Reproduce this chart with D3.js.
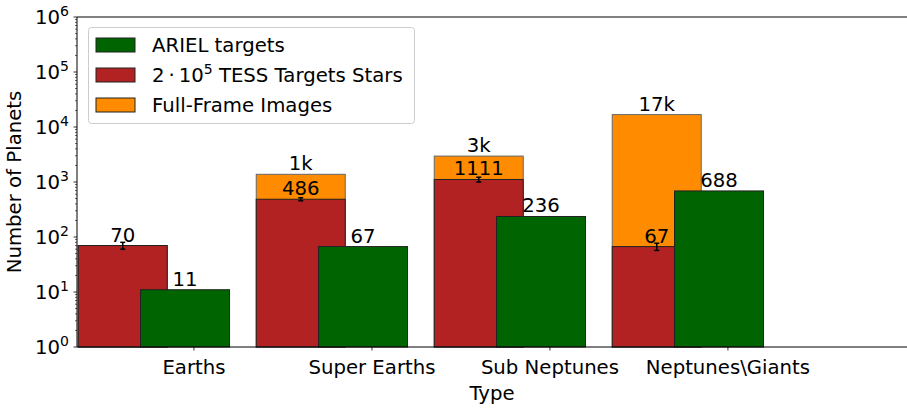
<!DOCTYPE html>
<meta charset="utf-8">
<title>Planet yield by type</title>
<script src="https://d3js.org/d3.v7.min.js"></script>
<style>
body {
	margin: 0;
	font-family: DejaVu Sans, sans-serif;
}
</style>
<body>
<script>
const categories = ['Earths', 'Super Earths', 'Sub Neptunes', 'Neptunes\\Giants'];
const arielTargets = [11, 67, 236, 688];
const tessTargets = [70, 486, 1111, 67];
const tessErrors = [10, 30, 110, 10];
const ffiTargets = [70, 1380, 2960, 16800];
const yExponents = [0, 1, 2, 3, 4, 5, 6];
const seriesNames = ['ARIEL targets', '2\u00b710^5 TESS Targets Stars', 'Full-Frame Images'];

const colors = {
	ariel: '#006400',
	tess: '#b22222',
	ffi: '#ff8c00',
};
const fontSize = 19.7;
const supSize = 14;
const width = 907;
const height = 409;
const margin = {top: 17, left: 77, bottom: 62};
const barWidth = 0.5;

const svg = d3.select('body')
	.append('svg')
		.attr('width', width)
		.attr('height', height)
		.attr('font-family', 'DejaVu Sans, sans-serif')
		.attr('font-size', fontSize);

// x in category units, y logarithmic
const x = d3.scaleLinear()
	.domain([-0.657, 4.006])
	.range([margin.left, width]);
const y = d3.scaleLog()
	.domain([1, 1e6])
	.range([height - margin.bottom, margin.top]);

const idx = d3.range(categories.length);
const bottom = y(1);

function addBars(values, offset, color, stroke) {
	svg.append('g')
		.selectAll('rect')
		.data(idx)
		.join('rect')
			.attr('x', i => x(i + offset - barWidth / 2))
			.attr('width', x(barWidth) - x(0))
			.attr('y', i => y(values[i]))
			.attr('height', i => bottom - y(values[i]))
			.attr('fill', color)
			.attr('stroke', stroke)
			.attr('stroke-width', 1);
}

function addLabels(values, offset, format) {
	svg.append('g')
		.attr('text-anchor', 'middle')
		.selectAll('text')
		.data(idx)
		.join('text')
			.attr('x', i => x(i + offset))
			.attr('y', i => y(values[i]) - 4)
			.text(i => format(values[i]));
}

// FFI bars sit behind the TESS bars; the Earths one is hidden under red
addBars(ffiTargets, -0.4, colors.ffi, '#666');
addBars(tessTargets, -0.4, colors.tess, '#222');
addBars(arielTargets, -0.05, colors.ariel, '#222');

// error bars on the TESS bars
const err = svg.append('g').attr('stroke', '#000').attr('stroke-width', 1.5);
idx.forEach(i => {
	const cx = x(i - 0.4);
	const lo = y(tessTargets[i] - tessErrors[i]);
	const hi = y(tessTargets[i] + tessErrors[i]);
	err.append('line').attr('x1', cx).attr('x2', cx).attr('y1', lo).attr('y2', hi);
	err.append('line').attr('x1', cx - 2.5).attr('x2', cx + 2.5).attr('y1', lo).attr('y2', lo);
	err.append('line').attr('x1', cx - 2.5).attr('x2', cx + 2.5).attr('y1', hi).attr('y2', hi);
});

// labels above the bars
addLabels(ffiTargets.map((v, i) => i === 0 ? 0 : v), -0.4,
	v => v ? Math.round(v / 1000) + 'k' : '');
addLabels(tessTargets, -0.4, d3.format('d'));
addLabels(arielTargets, -0.05, d3.format('d'));

// spines
const spines = svg.append('g').attr('stroke', '#000').attr('stroke-width', 1);
spines.append('line').attr('x1', margin.left).attr('x2', margin.left).attr('y1', margin.top).attr('y2', bottom);
spines.append('line').attr('x1', margin.left).attr('x2', width).attr('y1', bottom).attr('y2', bottom);
spines.append('line').attr('x1', margin.left).attr('x2', width).attr('y1', margin.top).attr('y2', margin.top);

// y axis: major and minor ticks
const yAxis = svg.append('g');
const minor = [];
yExponents.slice(0, -1).forEach(e => {
	for (let k = 2; k <= 9; k++) minor.push(k * Math.pow(10, e));
});
yAxis.selectAll('.minor')
	.data(minor)
	.join('line')
		.attr('x1', margin.left - 2)
		.attr('x2', margin.left)
		.attr('y1', d => y(d))
		.attr('y2', d => y(d))
		.attr('stroke', '#000')
		.attr('stroke-width', 0.6);
yAxis.selectAll('.major')
	.data(yExponents)
	.join('line')
		.attr('x1', margin.left - 3.5)
		.attr('x2', margin.left)
		.attr('y1', e => y(Math.pow(10, e)))
		.attr('y2', e => y(Math.pow(10, e)))
		.attr('stroke', '#000')
		.attr('stroke-width', 0.8);
const yLabels = yAxis.selectAll('text')
	.data(yExponents)
	.join('text')
		.attr('text-anchor', 'end')
		.attr('x', margin.left - 8)
		.attr('y', e => y(Math.pow(10, e)) + 7);
yLabels.append('tspan').text('10');
yLabels.append('tspan')
	.attr('font-size', supSize)
	.attr('dy', -8)
	.text(e => e);

// x axis ticks and labels
const xAxis = svg.append('g');
xAxis.selectAll('line')
	.data(idx)
	.join('line')
		.attr('x1', i => x(i))
		.attr('x2', i => x(i))
		.attr('y1', bottom)
		.attr('y2', bottom + 3.5)
		.attr('stroke', '#000')
		.attr('stroke-width', 0.8);
xAxis.selectAll('text')
	.data(idx)
	.join('text')
		.attr('text-anchor', 'middle')
		.attr('x', i => x(i))
		.attr('y', bottom + 27)
		.text(i => categories[i]);

// axis titles
svg.append('text')
	.attr('text-anchor', 'middle')
	.attr('x', (margin.left + width) / 2)
	.attr('y', 400)
	.text('Type');
svg.append('text')
	.attr('text-anchor', 'middle')
	.attr('transform', `translate(21, ${(margin.top + bottom) / 2}) rotate(-90)`)
	.text('Number of Planets');

// legend
const legend = svg.append('g');
legend.append('rect')
	.attr('x', 88.5)
	.attr('y', 27.5)
	.attr('width', 326)
	.attr('height', 96)
	.attr('rx', 3)
	.attr('fill', '#fff')
	.attr('fill-opacity', 0.8)
	.attr('stroke', '#ccc');
const legendColors = [colors.ariel, colors.tess, colors.ffi];
const rows = legend.selectAll('.row')
	.data(seriesNames)
	.join('g')
		.attr('transform', (d, i) => `translate(96, ${45 + i * 30})`);
rows.append('rect')
	.attr('y', -7)
	.attr('width', 39)
	.attr('height', 14)
	.attr('fill', (d, i) => legendColors[i])
	.attr('stroke', '#222');
const legendText = rows.append('text')
	.attr('x', 56)
	.attr('y', 7);
legendText.each(function (d) {
	const t = d3.select(this);
	if (d.includes('^')) {
		const [base, rest] = d.split('^');
		t.append('tspan').text(base.replace('\u00b7', '\u2009\u00b7\u2009'));
		t.append('tspan').attr('font-size', supSize).attr('dy', -8).text(rest[0]);
		t.append('tspan').attr('dy', 8).text(rest.slice(1));
	} else {
		t.text(d);
	}
});
</script>
</body>
